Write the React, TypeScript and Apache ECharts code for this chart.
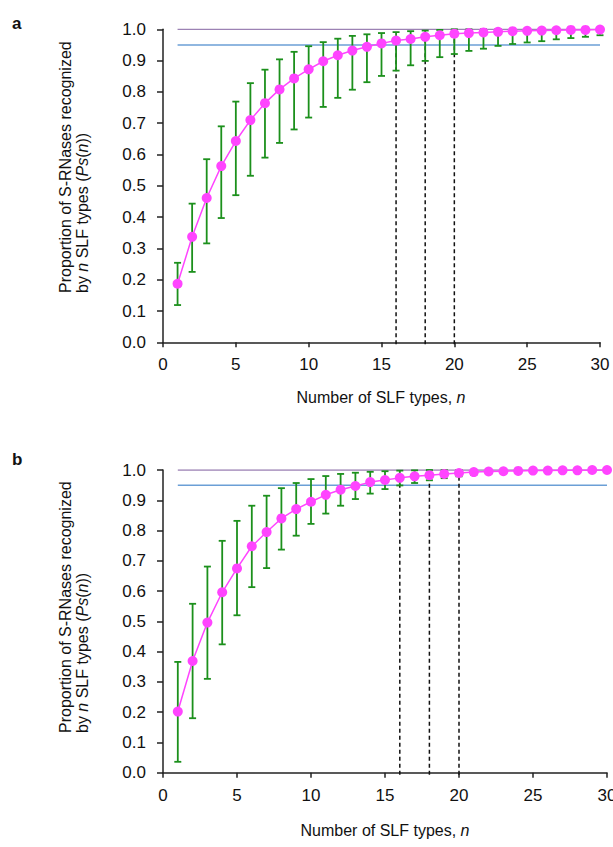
import React, { useEffect, useRef } from "react";
import * as echarts from "echarts";

const N = [1,2,3,4,5,6,7,8,9,10,11,12,13,14,15,16,17,18,19,20,21,22,23,24,25,26,27,28,29,30];

const A_MEAN = [0.187,0.337,0.461,0.563,0.643,0.710,0.764,0.808,0.843,0.872,0.898,0.917,0.932,0.944,0.955,0.964,0.969,0.976,0.981,0.986,0.988,0.990,0.992,0.994,0.995,0.996,0.997,0.998,0.998,0.999];
const A_LOW = [0.119,0.225,0.316,0.397,0.470,0.532,0.590,0.637,0.680,0.718,0.752,0.781,0.807,0.831,0.851,0.868,0.885,0.899,0.911,0.921,0.931,0.938,0.947,0.953,0.958,0.962,0.968,0.972,0.976,0.981];
const A_HIGH = [0.254,0.443,0.585,0.690,0.769,0.828,0.871,0.904,0.928,0.946,0.959,0.970,0.979,0.984,0.988,0.991,0.994,0.996,0.998,1,1,1,1,1,1,1,1,1,1,1];

const B_MEAN = [0.202,0.369,0.496,0.596,0.675,0.748,0.795,0.840,0.871,0.895,0.918,0.935,0.947,0.960,0.967,0.974,0.979,0.983,0.987,0.990,0.993,0.995,0.996,0.997,0.998,0.998,0.999,0.999,1.0,1.0];
const B_LOW = [0.036,0.180,0.310,0.424,0.520,0.613,0.676,0.737,0.783,0.822,0.856,0.882,0.904,0.922,0.937,0.949,0.957,0.966,0.973,0.979,0.984,0.988,0.991,0.993,0.995,0.996,0.997,0.998,0.999,0.999];
const B_HIGH = [0.366,0.558,0.681,0.766,0.832,0.882,0.915,0.940,0.957,0.970,0.980,0.987,0.991,0.994,0.996,0.998,0.999,1,1,1,1,1,1,1,1,1,1,1,1,1];

const THRESHOLDS = [1.0, 0.95];
const THRESHOLD_COLORS = ["#9c82b4", "#6b9fd6"];
const MARKED_N = [16, 18, 20];

const X_TICKS = [0, 5, 10, 15, 20, 25, 30];

const FONT = "'Liberation Sans', Arial, Helvetica, sans-serif";
const PINK = "#ff44ff";
const GREEN = "#1c901c";

function panelSeries(idx: number, mean: number[], low: number[], high: number[]) {
  const series: any[] = [];
  THRESHOLDS.forEach((t, k) => {
    series.push({
      type: "line",
      xAxisIndex: idx,
      yAxisIndex: idx,
      data: [[N[0], t], [N[N.length - 1], t]],
      symbol: "none",
      silent: true,
      lineStyle: { color: THRESHOLD_COLORS[k], width: 1.5 },
      z: 1,
    });
  });
  series.push({
    type: "custom",
    xAxisIndex: idx,
    yAxisIndex: idx,
    coordinateSystem: "cartesian2d",
    data: MARKED_N.map((n) => [n, mean[N.indexOf(n)]]),
    encode: { x: 0, y: 1 },
    z: 2,
    renderItem: (params: any, api: any) => {
      const x = api.value(0);
      const v = api.value(1);
      const p0 = api.coord([x, 0]);
      const p1 = api.coord([x, v]);
      return {
        type: "line",
        shape: { x1: p0[0], y1: p0[1] + 2, x2: p1[0], y2: p1[1] },
        style: { stroke: "#111", lineWidth: 1.5, lineDash: [4, 3] },
      };
    },
  });
  series.push({
    type: "custom",
    xAxisIndex: idx,
    yAxisIndex: idx,
    coordinateSystem: "cartesian2d",
    data: N.map((n, i) => [n, low[i], high[i]]),
    encode: { x: 0, y: [1, 2] },
    z: 3,
    renderItem: (params: any, api: any) => {
      const x = api.value(0);
      const lo = api.coord([x, api.value(1)]);
      const hi = api.coord([x, api.value(2)]);
      const w = 3.5;
      const st = { stroke: GREEN, lineWidth: 1.8 };
      return {
        type: "group",
        children: [
          { type: "line", shape: { x1: lo[0], y1: lo[1], x2: hi[0], y2: hi[1] }, style: st },
          { type: "line", shape: { x1: lo[0] - w, y1: lo[1], x2: lo[0] + w, y2: lo[1] }, style: st },
          { type: "line", shape: { x1: hi[0] - w, y1: hi[1], x2: hi[0] + w, y2: hi[1] }, style: st },
        ],
      };
    },
  });
  series.push({
    type: "line",
    xAxisIndex: idx,
    yAxisIndex: idx,
    data: N.map((n, i) => [n, mean[i]]),
    symbol: "circle",
    symbolSize: 10,
    itemStyle: { color: PINK },
    lineStyle: { color: PINK, width: 1.5 },
    z: 4,
  });
  return series;
}

function axisX(idx: number) {
  return {
    type: "value",
    gridIndex: idx,
    min: 0,
    max: 30,
    interval: 5,
    axisLine: { show: true, onZero: false, lineStyle: { color: "#222", width: 1.5 } },
    axisTick: { show: true, length: 5, lineStyle: { color: "#222", width: 1.5 } },
    axisLabel: {
      margin: 14,
      fontSize: 17,
      color: "#111",
      fontFamily: FONT,
      hideOverlap: false,
      formatter: (v: number) => (X_TICKS.includes(v) ? String(v) : ""),
    },
    splitLine: { show: false },
  };
}

function axisY(idx: number) {
  return {
    type: "value",
    gridIndex: idx,
    min: 0,
    max: 1,
    interval: 0.1,
    axisLine: { show: true, lineStyle: { color: "#222", width: 1.5 } },
    axisTick: { show: true, length: 6, lineStyle: { color: "#222", width: 1.5 } },
    axisLabel: {
      margin: 17,
      fontSize: 17,
      color: "#111",
      fontFamily: FONT,
      formatter: (v: number) => v.toFixed(1),
    },
    splitLine: { show: false },
  };
}

function yTitle(bottom: number) {
  const rich = { i: { fontStyle: "italic", fontSize: 16, fontFamily: FONT, fill: "#111" } };
  return [
    {
      type: "text",
      x: 65,
      y: bottom,
      rotation: Math.PI / 2,
      style: {
        text: "Proportion of S-RNases recognized",
        fontSize: 16,
        fontFamily: FONT,
        fill: "#111",
        align: "left",
        verticalAlign: "middle",
      },
    },
    {
      type: "text",
      x: 82,
      y: bottom,
      rotation: Math.PI / 2,
      style: {
        text: "by {i|n} SLF types ({i|Ps}({i|n}))",
        rich,
        fontSize: 16,
        fontFamily: FONT,
        fill: "#111",
        align: "left",
        verticalAlign: "middle",
      },
    },
  ];
}

function xTitle(cx: number, cy: number) {
  return {
    type: "text",
    x: cx,
    y: cy,
    style: {
      text: "Number of SLF types, {i|n}",
      rich: { i: { fontStyle: "italic", fontSize: 16, fontFamily: FONT, fill: "#111" } },
      fontSize: 16,
      fontFamily: FONT,
      fill: "#111",
      align: "center",
      verticalAlign: "middle",
    },
  };
}

function panelLabel(text: string, y: number) {
  return {
    type: "text",
    x: 12,
    y,
    style: { text, fontSize: 17, fontWeight: "bold", fontFamily: FONT, fill: "#111", align: "left", verticalAlign: "middle" },
  };
}

export default function App() {
  const ref = useRef<HTMLDivElement>(null);
  useEffect(() => {
    if (!ref.current) return;
    const chart = echarts.init(ref.current, undefined, { renderer: "svg" });
    chart.setOption({
      animation: false,
      backgroundColor: "#ffffff",
      grid: [
        { left: 163, top: 29.3, width: 437, height: 313, containLabel: false, outerBoundsMode: "none" },
        { left: 163, top: 470, width: 444, height: 302.7, containLabel: false, outerBoundsMode: "none" },
      ],
      xAxis: [axisX(0), axisX(1)],
      yAxis: [axisY(0), axisY(1)],
      series: [...panelSeries(0, A_MEAN, A_LOW, A_HIGH), ...panelSeries(1, B_MEAN, B_LOW, B_HIGH)],
      graphic: [
        panelLabel("a", 23),
        panelLabel("b", 459),
        ...yTitle(293),
        ...yTitle(733),
        xTitle(381, 397),
        xTitle(385, 830),
      ],
    });
    return () => chart.dispose();
  }, []);
  return <div ref={ref} style={{ position: "absolute", left: 0, top: 0, width: 613, height: 847 }} />;
}
